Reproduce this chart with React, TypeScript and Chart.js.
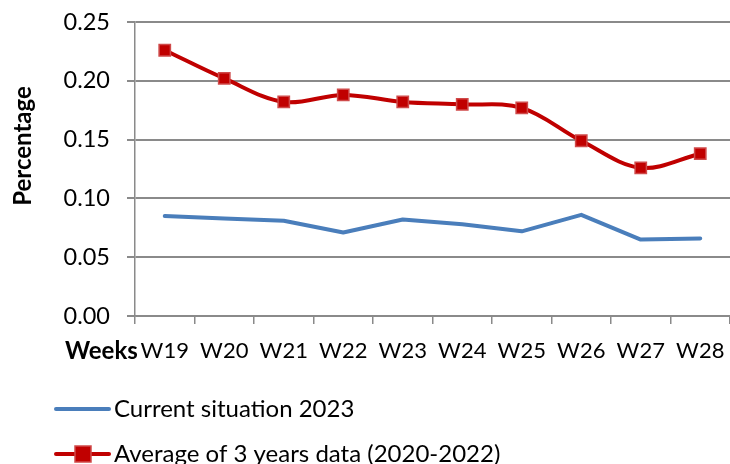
import React, { useEffect, useRef } from "react";
import { Chart, registerables } from "chart.js";

Chart.register(...registerables);

const categories = ["W19", "W20", "W21", "W22", "W23", "W24", "W25", "W26", "W27", "W28"];
const current2023 = [0.085, 0.083, 0.081, 0.071, 0.082, 0.078, 0.072, 0.086, 0.065, 0.066];
const avg3Years = [0.226, 0.202, 0.182, 0.188, 0.182, 0.18, 0.177, 0.149, 0.126, 0.138];
const yTicks = [0, 0.05, 0.1, 0.15, 0.2, 0.25];
const seriesLabels = ["Current situation 2023", "Average of 3 years data (2020-2022)"];
const yTitle = "Percentage";
const xTitle = "Weeks";

const FONT = "Lato";
const BLUE = "#4A7EBB";
const RED = "#C00000";
const RED_BORDER = "#CF4A4A";
const GRID = "#8A8A8A";

const overlayPlugin = {
  id: "overlay",
  afterDraw(chart: any) {
    const ctx = chart.ctx as CanvasRenderingContext2D;
    ctx.save();
    ctx.fillStyle = "#000";
    ctx.font = `bold 24px ${FONT}`;
    ctx.textAlign = "center";
    ctx.textBaseline = "middle";
    ctx.translate(23, 146);
    ctx.rotate(-Math.PI / 2);
    ctx.fillText(yTitle, 0, 0);
    ctx.restore();

    ctx.save();
    ctx.fillStyle = "#000";
    ctx.font = `bold 24px ${FONT}`;
    ctx.textAlign = "left";
    ctx.textBaseline = "middle";
    ctx.fillText(xTitle, 65, 351);

    const rows = [
      { y: 409, color: BLUE, marker: false, label: seriesLabels[0] },
      { y: 454, color: RED, marker: true, label: seriesLabels[1] },
    ];
    for (const r of rows) {
      ctx.strokeStyle = r.color;
      ctx.lineWidth = 4;
      ctx.lineCap = "round";
      ctx.beginPath();
      ctx.moveTo(56, r.y);
      ctx.lineTo(109, r.y);
      ctx.stroke();
      if (r.marker) {
        ctx.fillStyle = RED;
        ctx.strokeStyle = RED_BORDER;
        ctx.lineWidth = 1.5;
        ctx.fillRect(75, r.y - 8, 16, 16);
        ctx.strokeRect(75, r.y - 8, 16, 16);
      }
      ctx.fillStyle = "#000";
      ctx.font = `24px ${FONT}`;
      ctx.textAlign = "left";
      ctx.textBaseline = "middle";
      ctx.fillText(r.label, 114, r.y);
    }
    ctx.restore();
  },
};

export default function App() {
  const ref = useRef<HTMLCanvasElement>(null);
  useEffect(() => {
    const chart = new Chart(ref.current as HTMLCanvasElement, {
      type: "line",
      data: {
        labels: categories,
        datasets: [
          {
            label: seriesLabels[0],
            data: current2023,
            borderColor: BLUE,
            backgroundColor: BLUE,
            borderWidth: 4,
            pointRadius: 0,
            tension: 0,
            borderCapStyle: "round",
            borderJoinStyle: "round",
          },
          {
            label: seriesLabels[1],
            data: avg3Years,
            borderColor: RED,
            backgroundColor: RED,
            borderWidth: 4,
            tension: 0.35,
            pointStyle: "rect",
            pointRadius: 8,
            pointBackgroundColor: RED,
            pointBorderColor: RED_BORDER,
            pointBorderWidth: 1.5,
          },
        ],
      },
      options: {
        responsive: false,
        animation: false,
        devicePixelRatio: 1,
        layout: { autoPadding: false, padding: { top: 22, right: 0, left: 0, bottom: 0 } },
        plugins: { legend: { display: false }, tooltip: { enabled: false } },
        scales: {
          x: {
            type: "category",
            offset: true,
            grid: {
              display: true,
              drawOnChartArea: false,
              drawTicks: true,
              tickLength: 8,
              offset: true,
              color: GRID,
              lineWidth: 1.5,
            },
            border: { display: true, color: GRID, width: 1.5 },
            ticks: {
              color: "#000",
              font: { family: FONT, size: 22 },
              padding: 14,
              maxRotation: 0,
              autoSkip: false,
            },
            afterFit: (scale: any) => {
              scale.height = 148;
              scale.paddingLeft = 0;
              scale.paddingRight = 0;
            },
          },
          y: {
            min: 0,
            max: 0.25,
            afterBuildTicks: (scale: any) => {
              scale.ticks = yTicks.map((v) => ({ value: v }));
            },
            grid: { color: GRID, lineWidth: 2, tickLength: 8, drawTicks: true },
            border: { display: true, color: GRID, width: 1.5 },
            ticks: {
              color: "#000",
              font: { family: FONT, size: 23.5 },
              padding: 17,
              callback: (v: any) => Number(v).toFixed(2),
            },
            afterFit: (scale: any) => {
              scale.width = 135;
              scale.paddingTop = 0;
              scale.paddingBottom = 0;
            },
          },
        },
      },
      plugins: [overlayPlugin],
    } as any);
    return () => chart.destroy();
  }, []);
  return (
    <div style={{ position: "absolute", left: 0, top: 0, width: 730, height: 464, background: "#fff" }}>
      <canvas ref={ref} width={730} height={464} style={{ display: "block", width: 730, height: 464 }} />
    </div>
  );
}
